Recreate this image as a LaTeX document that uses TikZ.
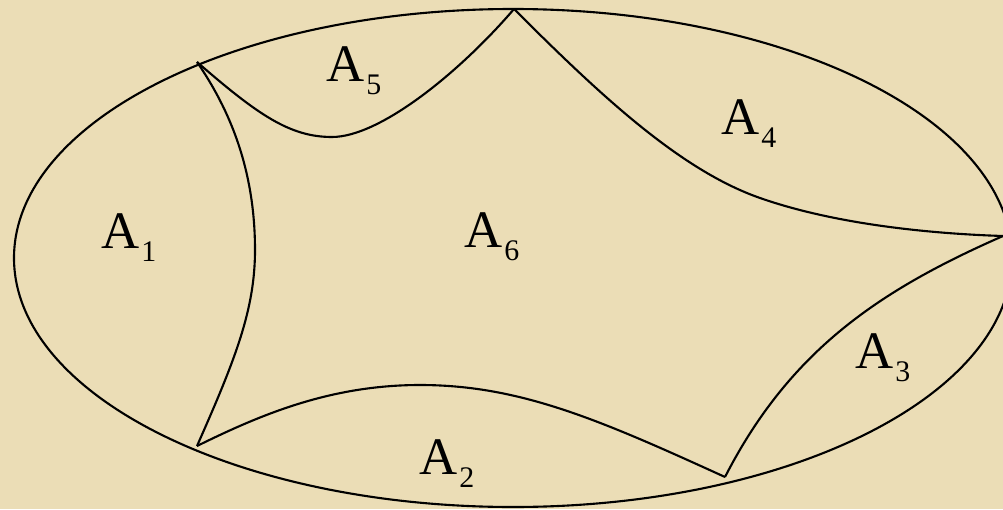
\documentclass[tikz,border=0pt]{standalone}
\usepackage{fontspec}
\setmainfont{Liberation Serif}
\usepackage{xcolor}
\usepackage{tikz}
\usetikzlibrary{calc}
\definecolor{parchment}{HTML}{EBDDB6}
\newcommand{\asub}[1]{A\kern0.6pt\raisebox{-3.9pt}{\fontsize{8.5}{8.5}\selectfont #1}}

\begin{document}
\begin{tikzpicture}[x=0.01cm, y=-0.01cm, line width=0.6pt,
    region/.style={inner sep=0pt, anchor=base west, font=\fontsize{15}{15}\selectfont}]
  % Hintergrund
  \useasboundingbox (0,0) rectangle (1003,509);
  \fill[parchment] (0,0) rectangle (1003,509);

  % Ellipse
  \draw (513,258) ellipse [x radius=499, y radius=249];

  % Eckpunkte auf dem Rand
  \coordinate (p1) at (197,62);
  \coordinate (p2) at (514,9);
  \coordinate (p3) at (1003,236);
  \coordinate (p4) at (725,477);
  \coordinate (p5) at (197,446);

  % Innere Grenzen
  \draw (p1) .. controls (258,115) and (290,137) .. (332,137)
             .. controls (380,137) and (460,72) .. (p2);
  \draw (p2) .. controls (600,95) and (680,170) .. (760,198)
             .. controls (840,226) and (940,234) .. (p3);
  \draw (p3) .. controls (880,290) and (790,350) .. (p4);
  \draw (p4) .. controls (600,420) and (520,385) .. (420,385)
             .. controls (330,385) and (260,415) .. (p5);
  \draw (p5) .. controls (235,360) and (255,310) .. (255,250)
             .. controls (255,170) and (230,110) .. (p1);

  % Flaechen
  \node[region] (a1) at (100,248) {\asub{1}};
  \node[region] (a2) at (418,474) {\asub{2}};
  \node[region] (a3) at (854,368) {\asub{3}};
  \node[region] (a4) at (720,134) {\asub{4}};
  \node[region] (a5) at (325,81) {\asub{5}};
  \node[region] (a6) at (463,247) {\asub{6}};
\end{tikzpicture}
\end{document}
